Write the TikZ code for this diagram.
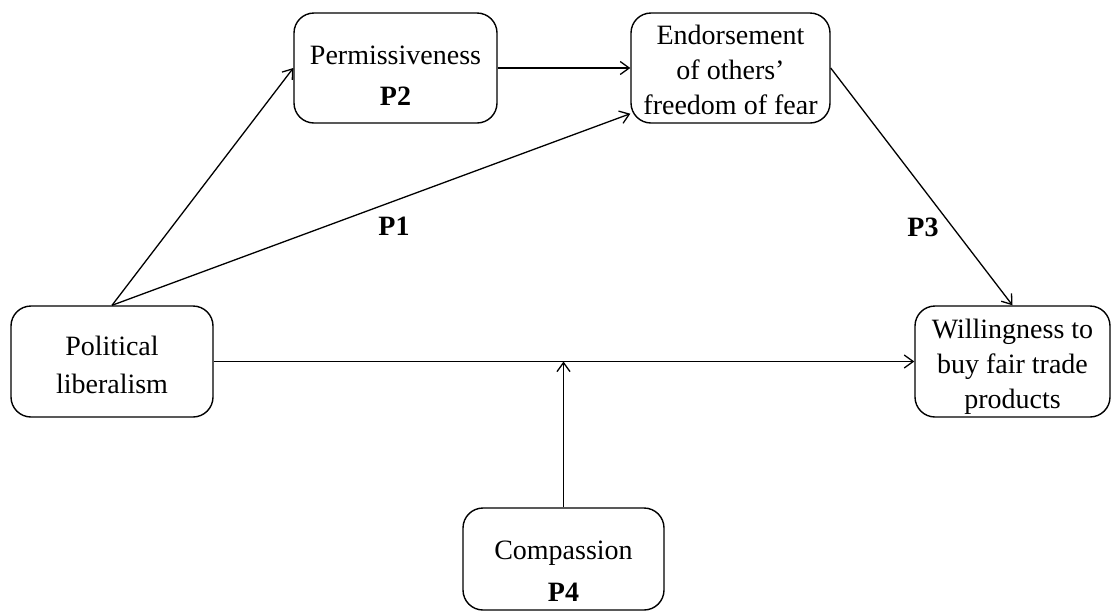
\documentclass[tikz,border=0pt]{standalone}
\usepackage{fontspec}
\setmainfont{Liberation Serif}
\usetikzlibrary{arrows.meta,calc}

% \lift{<pt>} enlarges the first line so that the text sits lower in its box
\newcommand{\lift}[1]{\rule{0pt}{#1}}

\tikzset{
  box/.style={draw, line width=1.4pt, rounded corners=20pt, align=center,
    inner sep=0pt, font=\fontsize{28}{35}\selectfont},
  link/.style={line width=1.3pt, -{Straight Barb[length=9pt,width=13pt,line width=1.3pt]}},
  plabel/.style={font=\fontsize{28}{35}\selectfont\bfseries}
}

\begin{document}
\begin{tikzpicture}[x=1pt,y=-1pt]
  \useasboundingbox (0,0) rectangle (1113,614);

  % construct boxes
  \node[box, minimum width=203pt, minimum height=110pt] (perm) at (395.5,68)
    {\lift{33pt}Permissiveness\\[6pt]\textbf{P2}};
  \node[box, minimum width=199pt, minimum height=110pt] (endorse) at (730.5,68)
    {\lift{24pt}Endorsement\\of others’\\freedom of fear};
  \node[box, minimum width=202pt, minimum height=111pt] (pl) at (112,361.5)
    {\lift{26pt}Political\\[3pt]liberalism};
  \node[box, minimum width=195pt, minimum height=111pt] (will) at (1012.5,361.5)
    {\lift{30pt}Willingness to\\buy fair trade\\products};
  \node[box, minimum width=201pt, minimum height=102pt] (comp) at (563.5,559)
    {\lift{43pt}Compassion\\[7pt]\textbf{P4}};

  % proposition labels
  \node[plabel] (p1) at (394,226) {P1};
  \node[plabel] (p3) at (923,227) {P3};

  % paths
  \draw[link] (pl.north) -- (perm.west);
  \draw[link] (pl.north) -- ($(endorse.south west)+(0,-10)$);
  \draw[link] (perm.east) -- (endorse.west);
  \draw[link] (endorse.east) -- (will.north);
  \draw[link] (pl.east) -- (will.west);
  \coordinate (mod) at (comp.north |- pl.east);
  \draw[link] (comp.north) -- (mod);
\end{tikzpicture}
\end{document}
